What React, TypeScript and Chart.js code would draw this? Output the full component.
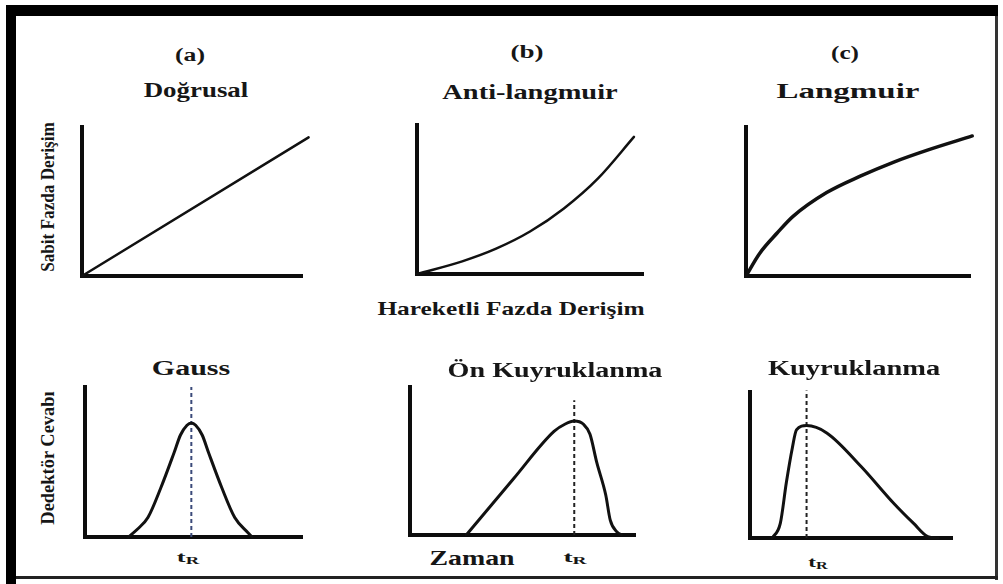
import React, { useEffect, useLayoutEffect, useRef, useState } from "react";
import { Chart, registerables } from "chart.js";

Chart.register(...registerables);

// Isotherms: mobile-phase concentration (x) vs stationary-phase concentration (y), % of axis
const linearX = [0, 103];
const linearY = [0, 93];
const antiLangmuirX = [0, 20, 35, 50, 65, 80, 96];
const antiLangmuirY = [0, 8.5, 17, 28.5, 44, 64, 92];
const langmuirX = [0, 6, 14, 21, 36, 51, 66, 81, 101];
const langmuirY = [0, 15, 29, 40, 56, 67, 76.5, 84.5, 94];

// Peak shapes: time (x) vs detector response (y), % of axis
const gaussX = [20, 24, 29, 35, 41, 44, 47, 49, 51, 54, 57, 63, 69, 75, 77];
const gaussY = [0, 5, 13, 33, 56, 68, 74.5, 76, 74.5, 68, 56, 33, 13, 3, 0];
const frontingX = [25, 46, 64, 69, 73, 77, 80, 83, 87, 89, 92, 94];
const frontingY = [0, 38, 70, 75, 77, 75, 68, 49, 27, 10, 2, 0];
const tailingX = [11, 15, 18, 21, 23, 28, 38, 55, 71, 81, 88, 93];
const tailingY = [0, 10, 38, 62, 74, 77, 72, 49, 24, 10, 1, 0];

// Retention time (tR) markers for the three peaks: position and top of the dashed line
const retentionX = [49, 73, 28];
const retentionTop = [100, 91, 101];

const SERIF = "'Liberation Serif', 'DejaVu Serif', serif";
const INK = "#161616";
const AXIS = "#0d0d0d";
const PAD = { l: 8, r: 12, t: 8, b: 8 };

type Series = {
  xs: number[];
  ys: number[];
  width: number;
  color: string;
  dash?: number[];
  smooth?: boolean;
};

function Plot({ ox, oy, w, h, series }: { ox: number; oy: number; w: number; h: number; series: Series[] }) {
  const ref = useRef<HTMLCanvasElement>(null);
  useEffect(() => {
    const axis = () => ({
      type: "linear" as const,
      min: 0,
      max: 100,
      ticks: { display: false },
      grid: { display: false, drawTicks: false },
      border: { display: true, color: AXIS, width: 4 },
    });
    const chart = new Chart(ref.current!, {
      type: "line",
      data: {
        datasets: series.map((s) => ({
          data: s.xs.map((x, i) => ({ x, y: s.ys[i] })),
          borderColor: s.color,
          borderWidth: s.width,
          borderDash: s.dash ?? [],
          borderCapStyle: s.dash ? "butt" : "round",
          borderJoinStyle: "round",
          pointRadius: 0,
          fill: false,
          clip: false,
          tension: 0,
          cubicInterpolationMode: s.smooth ? "monotone" : "default",
        })),
      },
      options: {
        responsive: false,
        animation: false,
        events: [],
        layout: { padding: { left: PAD.l, right: PAD.r, top: PAD.t, bottom: PAD.b } },
        plugins: { legend: { display: false }, tooltip: { enabled: false } },
        scales: { x: axis(), y: axis() },
      },
    } as any);
    return () => chart.destroy();
  }, []);
  return (
    <canvas
      ref={ref}
      width={w + PAD.l + PAD.r}
      height={h + PAD.t + PAD.b}
      style={{ position: "absolute", left: ox - PAD.l, top: oy - h - PAD.t }}
    />
  );
}

function Label({
  x,
  y,
  size,
  width,
  rotate,
  children,
}: {
  x: number;
  y: number;
  size: number;
  width: number;
  rotate?: boolean;
  children: React.ReactNode;
}) {
  const ref = useRef<HTMLSpanElement>(null);
  const [k, setK] = useState(1);
  useLayoutEffect(() => {
    const el = ref.current;
    if (el && el.offsetWidth) setK(width / el.offsetWidth);
  }, [width]);
  return (
    <span
      ref={ref}
      style={{
        position: "absolute",
        left: x,
        top: y,
        whiteSpace: "nowrap",
        fontFamily: SERIF,
        fontWeight: "bold",
        fontSize: size,
        lineHeight: 1,
        color: INK,
        transformOrigin: "50% 50%",
        transform: `translate(-50%, -50%)${rotate ? " rotate(-90deg)" : ""} scaleX(${k})`,
      }}
    >
      {children}
    </span>
  );
}

const TR = () => (
  <span>
    t<span style={{ fontSize: "0.7em", position: "relative", top: "0.2em" }}>R</span>
  </span>
);

const line = (xs: number[], ys: number[], width: number, smooth = true): Series => ({
  xs,
  ys,
  width,
  color: "#111",
  smooth,
});

const marker = (i: number, color: string): Series => ({
  xs: [retentionX[i], retentionX[i]],
  ys: [0, retentionTop[i]],
  width: 2,
  color,
  dash: [4, 3],
});

export default function App() {
  return (
    <div style={{ position: "absolute", left: 0, top: 0, width: 1003, height: 584, background: "#fff", overflow: "hidden" }}>
      {/* frame */}
      <div style={{ position: "absolute", left: 6, top: 5, width: 992, height: 11, background: "#000" }} />
      <div style={{ position: "absolute", left: 6, top: 5, width: 10, height: 579, background: "#000" }} />
      <div style={{ position: "absolute", left: 995, top: 16, width: 3, height: 564, background: "#333" }} />
      <div style={{ position: "absolute", left: 16, top: 576, width: 982, height: 3, background: "#222" }} />

      {/* isotherms */}
      <Plot ox={82} oy={276} w={220} h={149} series={[line(linearX, linearY, 2.5, false)]} />
      <Plot ox={417} oy={274} w={226} h={149} series={[line(antiLangmuirX, antiLangmuirY, 2.5)]} />
      <Plot ox={746} oy={276} w={224} h={149} series={[line(langmuirX, langmuirY, 3.5)]} />

      {/* peak shapes */}
      <Plot ox={85} oy={537} w={217} h={150} series={[line(gaussX, gaussY, 3), marker(0, "#3b4a7a")]} />
      <Plot ox={410} oy={535} w={225} h={148} series={[line(frontingX, frontingY, 3), marker(1, "#222")]} />
      <Plot ox={750} oy={538} w={202} h={146} series={[line(tailingX, tailingY, 3), marker(2, "#222")]} />

      <Label x={190} y={55} size={18} width={30}>(a)</Label>
      <Label x={527} y={52} size={18} width={33}>(b)</Label>
      <Label x={845} y={53} size={18} width={28}>(c)</Label>

      <Label x={196} y={90} size={21} width={105}>Doğrusal</Label>
      <Label x={530} y={92} size={21} width={176}>Anti-langmuir</Label>
      <Label x={848} y={91} size={21} width={143}>Langmuir</Label>

      <Label x={47} y={197} size={19} width={150} rotate>Sabit Fazda Derişim</Label>
      <Label x={511} y={308} size={19} width={267}>Hareketli Fazda Derişim</Label>

      <Label x={191} y={368} size={20} width={78}>Gauss</Label>
      <Label x={555} y={370} size={20} width={215}>Ön Kuyruklanma</Label>
      <Label x={854} y={368} size={20} width={172}>Kuyruklanma</Label>

      <Label x={47} y={458} size={19} width={133} rotate>Dedektör Cevabı</Label>

      <Label x={188} y={557} size={15} width={23}><TR /></Label>
      <Label x={575} y={557} size={15} width={24}><TR /></Label>
      <Label x={818} y={562} size={15} width={20}><TR /></Label>
      <Label x={472} y={558} size={21} width={85}>Zaman</Label>
    </div>
  );
}
